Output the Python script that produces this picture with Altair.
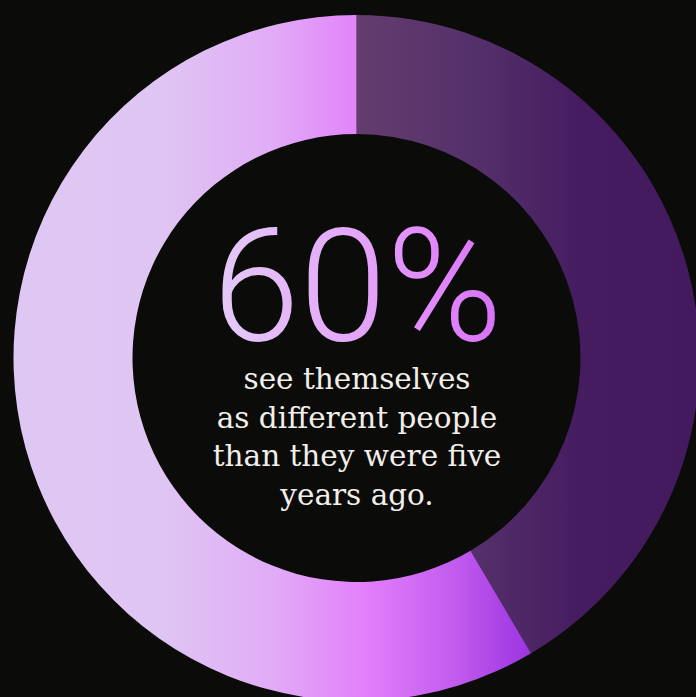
import math
import altair as alt
import pandas as pd

# Data
segments = ["same as five years ago", "different people"]
shares = [41.5, 58.5]
order = [0, 1]
headline = ["60%"]
caption_lines = ["see themselves", "as different people", "than they were five", "years ago."]

df = pd.DataFrame({"segment": segments, "share": shares, "order": order})

CX, CY = 356.5, 358
R_OUT, R_IN = 343, 224

def lin(stops):
    return alt.Gradient(
        gradient="linear", x1=0, x2=1, y1=0, y2=0,
        stops=[alt.GradientStop(offset=o, color=c) for o, c in stops],
    )

dark_grad = lin([(0, "#643c6e"), (0.35, "#54306a"), (0.65, "#461c61"), (1, "#441a5f")])
light_grad = lin([(0, "#dfc7f3"), (0.29, "#dfc5f3"), (0.5, "#e1acf6"), (0.68, "#e37ffb"), (0.85, "#c35cef"), (1, "#9a34e0")])
text_grad = lin([(0, "#e4cbf6"), (0.5, "#e4a6f9"), (0.8, "#e284fb"), (1, "#d670f4")])

base = (
    alt.Chart(df)
    .transform_window(cum="sum(share)", sort=[alt.SortField("order")], frame=[None, 0])
    .transform_calculate(start="datum.cum - datum.share")
)
theta_scale = alt.Scale(domain=[0, 100], range=[0, 2 * math.pi])

def ring(seg, grad):
    return (
        base.transform_filter(alt.datum.segment == seg)
        .mark_arc(outerRadius=R_OUT, innerRadius=R_IN, color=grad, strokeWidth=0)
        .encode(
            theta=alt.Theta("start:Q", scale=theta_scale, stack=None),
            theta2="cum:Q",
            x=alt.value(CX),
            y=alt.value(CY),
        )
    )

dark = ring(segments[0], dark_grad)
light = ring(segments[1], light_grad)

big = (
    alt.Chart(pd.DataFrame({"t": headline}))
    .mark_text(font="Roboto", fontWeight=300, fontSize=157, align="center",
               baseline="alphabetic", color=text_grad)
    .encode(text="t:N", x=alt.value(357.5), y=alt.value(340))
)

caption = (
    alt.Chart(pd.DataFrame({"k": [0]}))
    .mark_text(text=caption_lines, font="DejaVu Serif", fontSize=29.5, lineHeight=38.5,
               align="center", baseline="alphabetic", color="#f2efea")
    .encode(x=alt.value(357), y=alt.value(389))
)

chart = (
    alt.layer(dark, light, big, caption)
    .properties(width=696, height=697, background="#0b0b0a", padding=0,
                autosize=alt.AutoSizeParams(type="none"))
    .configure_view(stroke=None)
)

chart.save("out.html", embed_options={"renderer": "svg", "actions": False})
